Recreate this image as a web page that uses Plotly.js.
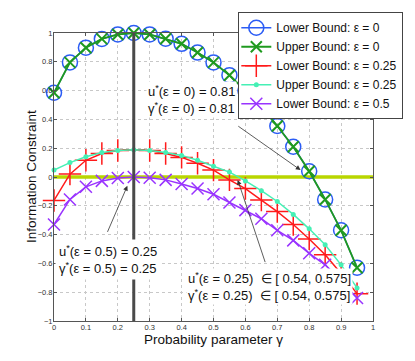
<!DOCTYPE html>
<html>
<head>
<meta charset="utf-8">
<script src="https://cdn.plot.ly/plotly-3.0.1.min.js"></script>
<style>html,body{margin:0;padding:0;background:#fff;}#chart{width:415px;height:361px;}</style>
</head>
<body>
<div id="chart"></div>
<script>
var gammaX = [0,0.05,0.1,0.15,0.2,0.25,0.3,0.35,0.4,0.45,0.5,0.55,0.6,0.65,0.7,0.75,0.8,0.85,0.9,0.95];
var lowerEps0 = [0.585,0.796,0.898,0.959,0.99,1.0,0.99,0.96,0.925,0.864,0.796,0.707,0.60,0.49,0.354,0.21,0.04,-0.156,-0.37,-0.63];
var upperEps0 = [0.585,0.796,0.898,0.959,0.99,1.0,0.99,0.96,0.925,0.864,0.796,0.707,0.60,0.49,0.354,0.21,0.04,-0.156,-0.37,-0.63];
var lowerEps25 = [-0.163,0.02,0.116,0.163,0.184,0.19,0.184,0.163,0.136,0.095,0.048,-0.02,-0.08,-0.16,-0.24,-0.33,-0.43,-0.54,-0.67,-0.81];
var upperEps25 = [0.048,0.10,0.14,0.17,0.184,0.19,0.184,0.17,0.15,0.116,0.075,0.034,-0.027,-0.095,-0.17,-0.26,-0.36,-0.47,-0.61,-0.77];
var lowerEps5 = [-0.33,-0.156,-0.068,-0.027,-0.007,0,-0.005,-0.02,-0.048,-0.08,-0.12,-0.177,-0.23,-0.29,-0.37,-0.44,-0.53,-0.61,-0.72,-0.84];
var zeroLineX = [0,1];
var zeroLineY = [0,0];
var optLineX = [0.25,0.25];
var optLineY = [-1,1];
var seriesNames = ['Lower Bound: ε = 0','Upper Bound: ε = 0','Lower Bound: ε = 0.25','Upper Bound: ε = 0.25','Lower Bound: ε = 0.5'];
var xTicks = [0,0.1,0.2,0.3,0.4,0.5,0.6,0.7,0.8,0.9,1];
var yTicks = [-1,-0.8,-0.6,-0.4,-0.2,0,0.2,0.4,0.6,0.8,1];

var traces = [
  {x: zeroLineX, y: zeroLineY, mode:'lines', line:{color:'#b9d600', width:3.5}, showlegend:false, hoverinfo:'skip'},
  {x: gammaX, y: lowerEps0, name: seriesNames[0], mode:'lines+markers', cliponaxis:false, line:{color:'#2b5cf5', width:1.5},
   marker:{symbol:'circle-open', size:15, line:{color:'#2b5cf5', width:1.5}}},
  {x: gammaX, y: upperEps0, name: seriesNames[1], mode:'lines+markers', cliponaxis:false, line:{color:'#1f9a1f', width:1.8},
   marker:{symbol:'x-thin-open', size:11, line:{color:'#1f9a1f', width:2}}},
  {x: gammaX, y: lowerEps25, name: seriesNames[2], mode:'lines+markers', cliponaxis:false, line:{color:'#ff1a1a', width:1.5},
   marker:{symbol:'cross-thin-open', size:16, line:{color:'#ff1a1a', width:1.5}}},
  {x: gammaX, y: upperEps25, name: seriesNames[3], mode:'lines+markers', cliponaxis:false, line:{color:'#45f0b5', width:1.5},
   marker:{symbol:'circle', size:5, color:'#45f0b5'}},
  {x: gammaX, y: lowerEps5, name: seriesNames[4], mode:'lines+markers', cliponaxis:false, line:{color:'#9933ff', width:1.5},
   marker:{symbol:'x-thin-open', size:12, line:{color:'#9933ff', width:1.5}}},
  {x: optLineX, y: optLineY, mode:'lines', line:{color:'#4a4a4a', width:3}, showlegend:false, hoverinfo:'skip'}
];

var annFont = {family:'Liberation Sans, Arial, sans-serif', size:13, color:'#111'};
var arrowBase = {xref:'x', yref:'y', axref:'x', ayref:'y', text:' ', font:{size:1}, showarrow:true,
  arrowhead:2, arrowsize:1.2, arrowwidth:0.8, arrowcolor:'#333', standoff:0, startstandoff:0};

var layout = {
  width:415, height:361,
  margin:{l:54, r:40, t:27, b:40, pad:0},
  paper_bgcolor:'#fff', plot_bgcolor:'#fff',
  font:{family:'Liberation Sans, Arial, sans-serif', color:'#222'},
  showlegend:true,
  legend:{x:1.095, xanchor:'right', y:1.072, yanchor:'top', bgcolor:'#fff', bordercolor:'#444', borderwidth:1,
    font:{size:12, color:'#111'}, tracegroupgap:0, itemwidth:30, indentation:-3},
  xaxis:{range:[0,1], tickvals:xTicks, ticktext:xTicks.map(String), showgrid:true, gridcolor:'#c8c8c8', griddash:'dot',
    zeroline:false, showline:true, mirror:'ticks', linecolor:'#555', linewidth:1, ticks:'inside', ticklen:3, tickcolor:'#555',
    tickfont:{size:7.5, color:'#333'}, ticklabelstandoff:-1,
    title:{text:'Probability parameter γ', font:{size:13.5, color:'#111'}, standoff:0}},
  yaxis:{range:[-1,1], tickvals:yTicks, ticktext:yTicks.map(function(v){return v<0 ? '\u2212'+String(-v) : String(v);}),
    showgrid:true, gridcolor:'#c8c8c8', griddash:'dot',
    zeroline:false, showline:true, mirror:'ticks', linecolor:'#555', linewidth:1, ticks:'inside', ticklen:3, tickcolor:'#555',
    tickfont:{size:7.5, color:'#333'}, ticklabelstandoff:-1},
  annotations:[
    {xref:'paper', yref:'paper', x:-0.072, y:0.5, xanchor:'center', yanchor:'middle', textangle:-90, showarrow:false,
     text:'Information Constraint', font:{family:'Liberation Sans, Arial, sans-serif', size:13.5, color:'#111'}},
    {xref:'x', yref:'y', x:0.287, y:0.535, xanchor:'left', yanchor:'middle', align:'left', showarrow:false,
     text:'u<sup>*</sup>(ε = 0) = 0.81<br>γ<sup>*</sup>(ε = 0) = 0.81', font:annFont, bgcolor:'#fff'},
    {xref:'x', yref:'y', x:0.003, y:-0.57, xanchor:'left', yanchor:'middle', align:'left', showarrow:false, borderpad:3,
     text:'u<sup>*</sup>(ε = 0.5) = 0.25<br>γ<sup>*</sup>(ε = 0.5) = 0.25', font:annFont, bgcolor:'#fff'},
    {xref:'x', yref:'y', x:0.414, y:-0.762, xanchor:'left', yanchor:'middle', align:'left', showarrow:false,
     text:'u<sup>*</sup>(ε = 0.25)  ∈ [ 0.54, 0.575]<br>γ<sup>*</sup>(ε = 0.25)  ∈ [ 0.54, 0.575]', font:annFont, bgcolor:'#fff'},
    Object.assign({}, arrowBase, {x:0.773, y:0.048, ax:0.573, ay:0.36}),
    Object.assign({}, arrowBase, {x:0.23, y:-0.061, ax:0.165, ay:-0.395}),
    Object.assign({}, arrowBase, {x:0.576, y:-0.02, ax:0.664, ay:-0.605})
  ]
};

Plotly.newPlot('chart', traces, layout, {displayModeBar:false, staticPlot:true});
</script>
</body>
</html>
